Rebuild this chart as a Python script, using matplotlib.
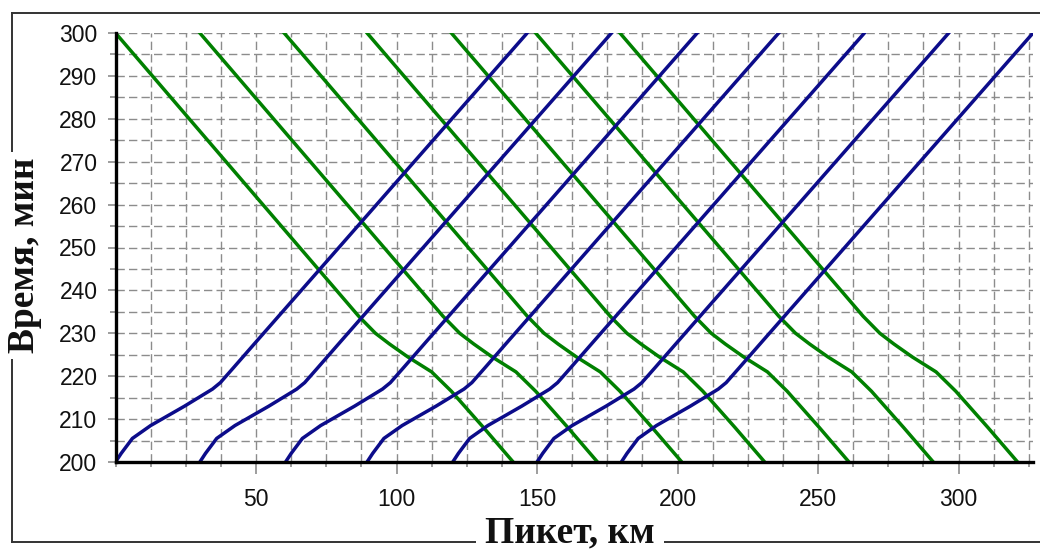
import matplotlib.pyplot as plt
from matplotlib.ticker import MultipleLocator
from matplotlib.lines import Line2D

# train graph: time (min) vs position (km)
# one speed profile per direction, shifted by the start position of each train
blue_t = [200, 202, 205.5, 208.5, 213, 217, 218.5, 222, 228, 300]
blue_dx = [0, 2, 6, 12.5, 24.5, 34.5, 37.3, 42, 50, 146.5]
blue_starts = [0, 30, 60.5, 89.5, 120, 150, 180]

green_t = [300, 234, 230, 227.5, 224.5, 221, 216.5, 208, 200]
green_dx = [0, 86.5, 92.5, 97.5, 104, 112.5, 119.5, 131, 141.5]
green_starts = [0, 30, 60, 89.5, 119.5, 149.5, 179.5]

x_ticks = [50, 100, 150, 200, 250, 300]
y_ticks = [200, 210, 220, 230, 240, 250, 260, 270, 280, 290, 300]

fig = plt.figure(figsize=(10.4, 5.5), dpi=100)
ax = fig.add_axes([0.1111, 0.16, 0.8822, 0.78])

for s in green_starts:
    ax.plot([s + d for d in green_dx], green_t, color='#008000', lw=2.5, zorder=3)
for s in blue_starts:
    ax.plot([s + d for d in blue_dx], blue_t, color='#0c0c8a', lw=2.5, zorder=4)

ax.set_xlim(0, 326.5)
ax.set_ylim(200, 300)
ax.set_xticks(x_ticks)
ax.set_yticks(y_ticks)
ax.xaxis.set_minor_locator(MultipleLocator(12.5))
ax.yaxis.set_minor_locator(MultipleLocator(5))

grid_style = dict(color='#8c8c8c', linestyle=(0, (6, 3)), linewidth=1.0)
ax.grid(True, which='both', **grid_style)
ax.set_axisbelow(True)

for side in ['top', 'right']:
    ax.spines[side].set_visible(False)
for side in ['left', 'bottom']:
    ax.spines[side].set_linewidth(2.4)
    ax.spines[side].set_color('black')
    ax.spines[side].set_zorder(5)

ax.tick_params(axis='y', which='major', length=6, width=1.2, color='#8c8c8c', pad=7)
ax.tick_params(axis='y', which='minor', length=4.5, width=1.2, color='#8c8c8c')
ax.tick_params(axis='x', which='major', length=8.6, width=1.2, color='#8c8c8c', pad=10)
ax.tick_params(axis='x', which='minor', length=3.6, width=1.2, color='#8c8c8c')
for lab in ax.get_xticklabels() + ax.get_yticklabels():
    lab.set_fontfamily('Liberation Sans')
    lab.set_fontsize(16.5)
    lab.set_color('#111111')

# group-box style frame around the chart
frame = dict(color='#333333', lw=1.4, transform=fig.transFigure)
fig.add_artist(Line2D([0.0115, 1.0], [0.9764, 0.9764], **frame))
fig.add_artist(Line2D([0.0115, 0.0115], [0.0145, 0.9764], **frame))
fig.add_artist(Line2D([0.0115, 1.0], [0.0145, 0.0145], **frame))

label_font = dict(family='Liberation Serif', weight='bold', size=27, color='#111111')
fig.text(0.024, 0.536, 'Время, мин', rotation=90, ha='center', va='center',
         bbox=dict(facecolor='white', edgecolor='none', boxstyle='square,pad=0.15'),
         **label_font)
fig.text(0.548, 0.013, 'Пикет, км', ha='center', va='baseline',
         bbox=dict(facecolor='white', edgecolor='none', boxstyle='square,pad=0.25'),
         **label_font)

fig.savefig('out.png', dpi=100)
